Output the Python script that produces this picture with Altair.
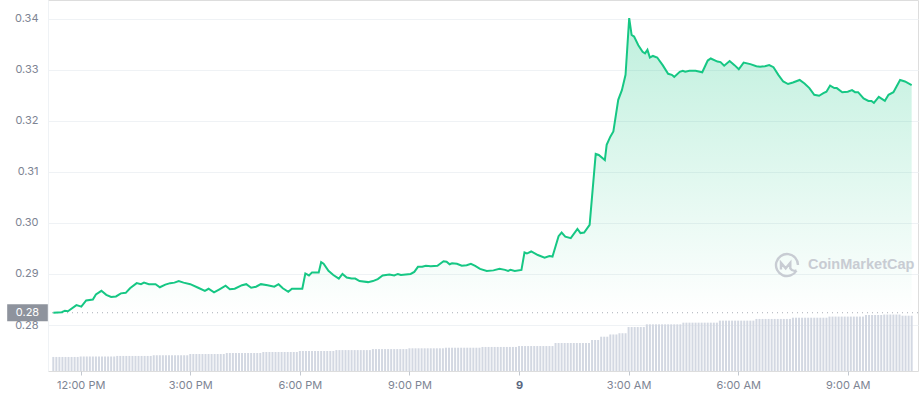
import altair as alt
import pandas as pd

# ---------------- data ----------------
BASE = pd.Timestamp("2022-11-08 12:00")   # 12:00 PM on the 8th

# minutes relative to 12:00 PM of day 8
TIMES_MIN = [
    -45, -31, -26, -21, -7, 1, 9, 20, 25, 34,
    42, 50, 58, 66, 74, 81, 92, 99, 104, 112,
    123, 130, 139, 147, 154, 161, 169, 180, 193, 204,
    210, 219, 228, 238, 245, 253, 265, 272, 280, 288,
    296, 307, 318, 325, 332, 341, 347, 356, 364, 369,
    375, 380, 391, 395, 399, 407, 415, 424, 430, 437,
    445, 451, 458, 472, 480, 488, 496, 507, 515, 521,
    526, 542, 548, 554, 561, 567, 575, 586, 596, 601,
    606, 610, 618, 626, 634, 641, 648, 656, 667, 678,
    688, 697, 702, 706, 713, 724, 729, 733, 740, 751,
    762, 770, 775, 785, 790, 796, 805, 816, 821, 827,
    836, 846, 851, 861, 864, 870, 875, 883, 889, 895,
    901, 905, 909, 916, 923, 927, 931, 935, 940, 947,
    956, 965, 971, 975, 984, 989, 993, 1000, 1010, 1021,
    1030, 1035, 1046, 1051, 1057, 1066, 1074, 1081, 1089, 1100,
    1110, 1116, 1124, 1131, 1138, 1146, 1154, 1162, 1170, 1181,
    1189, 1197, 1205, 1213, 1220, 1225, 1231, 1238, 1242, 1251,
    1260, 1267, 1272, 1277, 1286, 1294, 1299, 1303, 1311, 1321,
    1327, 1335, 1346, 1354, 1365,
]

PRICES = [
    0.2824, 0.2825, 0.2828, 0.2827, 0.2839, 0.2836, 0.2848, 0.2850, 0.2860, 0.2867,
    0.2859, 0.2855, 0.2856, 0.2862, 0.2863, 0.2872, 0.2882, 0.2880, 0.2883, 0.2880,
    0.2880, 0.2874, 0.2879, 0.2882, 0.2883, 0.2886, 0.2883, 0.2880, 0.2873, 0.2867,
    0.2871, 0.2864, 0.2870, 0.2877, 0.2870, 0.2871, 0.2878, 0.2880, 0.2873, 0.2875,
    0.2880, 0.2878, 0.2875, 0.2880, 0.2872, 0.2865, 0.2871, 0.2871, 0.2871, 0.2901,
    0.2897, 0.2903, 0.2903, 0.2923, 0.2920, 0.2906, 0.2898, 0.2891, 0.2900, 0.2893,
    0.2891, 0.2891, 0.2886, 0.2884, 0.2886, 0.2890, 0.2897, 0.2899, 0.2897, 0.2900,
    0.2898, 0.2900, 0.2904, 0.2914, 0.2914, 0.2916, 0.2915, 0.2916, 0.2925, 0.2924,
    0.2919, 0.2921, 0.2920, 0.2916, 0.2917, 0.2920, 0.2916, 0.2910, 0.2906, 0.2907,
    0.2910, 0.2908, 0.2906, 0.2908, 0.2906, 0.2908, 0.2942, 0.2940, 0.2944, 0.2937,
    0.2932, 0.2935, 0.2934, 0.2974, 0.2981, 0.2973, 0.2970, 0.2988, 0.2980, 0.2981,
    0.2996, 0.3135, 0.3133, 0.3123, 0.3153, 0.3169, 0.3179, 0.3241, 0.3260, 0.3290,
    0.3401, 0.3368, 0.3365, 0.3348, 0.3335, 0.3332, 0.3339, 0.3324, 0.3327, 0.3324,
    0.3309, 0.3292, 0.3290, 0.3286, 0.3296, 0.3298, 0.3296, 0.3298, 0.3298, 0.3295,
    0.3318, 0.3322, 0.3316, 0.3315, 0.3308, 0.3317, 0.3309, 0.3301, 0.3314, 0.3311,
    0.3307, 0.3306, 0.3307, 0.3309, 0.3305, 0.3290, 0.3277, 0.3272, 0.3275, 0.3280,
    0.3273, 0.3264, 0.3251, 0.3249, 0.3254, 0.3257, 0.3269, 0.3264, 0.3264, 0.3256,
    0.3257, 0.3260, 0.3256, 0.3256, 0.3244, 0.3239, 0.3239, 0.3235, 0.3247, 0.3239,
    0.3251, 0.3256, 0.3280, 0.3277, 0.3270,
]

OPEN_PRICE = PRICES[0]
OPEN_LABEL = "0.28"

# volume: value held from each block start (minutes from 12:00 PM), in millions
VOL_BLOCK_START = [-45, 0, 60, 120, 180, 240, 300, 360, 420, 480, 540, 600, 660, 720,
                   780, 840, 855, 870, 885, 900, 930, 990, 1050, 1110, 1170, 1230,
                   1290, 1320, 1350]
VOL_BLOCK_VALUE = [12.5, 12.9, 13.4, 14.0, 15.1, 16.0, 16.9, 17.8, 18.6, 19.5, 20.2,
                   20.7, 21.4, 22.2, 24.9, 27.6, 30.5, 32.5, 33.6, 39.1, 41.5, 43.0,
                   44.8, 46.3, 47.4, 48.4, 49.8, 50.2, 49.2]
VOL_BAR_STEP_MIN = 5

Y_TICKS = [0.28, 0.29, 0.30, 0.31, 0.32, 0.33, 0.34]
PRICE_DOMAIN = [0.27099, 0.34366]
VOL_DOMAIN = [0, 330]

# ---------------- tables ----------------
price_df = pd.DataFrame({
    "time": BASE + pd.to_timedelta(TIMES_MIN, unit="m"),
    "price": PRICES,
})

bar_minutes = list(range(TIMES_MIN[0], TIMES_MIN[-1] + 1, VOL_BAR_STEP_MIN))
bar_vals = []
for m in bar_minutes:
    v = VOL_BLOCK_VALUE[0]
    for s, val in zip(VOL_BLOCK_START, VOL_BLOCK_VALUE):
        if m >= s:
            v = val
    bar_vals.append(v)
vol_df = pd.DataFrame({
    "time": BASE + pd.to_timedelta(bar_minutes, unit="m"),
    "volume": bar_vals,
})
one = pd.DataFrame({"k": [0]})

# ---------------- scales / axes ----------------
x_domain = [
    alt.DateTime(year=2022, month=11, date=8, hours=11, minutes=14, seconds=30),
    alt.DateTime(year=2022, month=11, date=9, hours=10, minutes=47, seconds=12),
]
x_ticks = [
    alt.DateTime(year=2022, month=11, date=8, hours=12),
    alt.DateTime(year=2022, month=11, date=8, hours=15),
    alt.DateTime(year=2022, month=11, date=8, hours=18),
    alt.DateTime(year=2022, month=11, date=8, hours=21),
    alt.DateTime(year=2022, month=11, date=9, hours=0),
    alt.DateTime(year=2022, month=11, date=9, hours=3),
    alt.DateTime(year=2022, month=11, date=9, hours=6),
    alt.DateTime(year=2022, month=11, date=9, hours=9),
]
x_axis = alt.Axis(
    values=x_ticks,
    labelExpr="hours(datum.value) == 0 ? '9' : timeFormat(datum.value, '%-I:%M %p')",
    grid=False, domain=False, ticks=True, tickSize=4, tickColor="#c3c8d0",
    labelPadding=4, labelFontSize=11, title=None,
    labelColor={"condition": {"test": "hours(datum.value) == 0", "value": "#58667e"},
                "value": "#7d8493"},
    labelFontWeight={"condition": {"test": "hours(datum.value) == 0", "value": "bold"},
                     "value": "normal"},
)
x_enc = alt.X("time:T", scale=alt.Scale(domain=x_domain), axis=x_axis)

price_scale = alt.Scale(domain=PRICE_DOMAIN, zero=False, nice=False)
y_axis = alt.Axis(
    values=Y_TICKS, format=".2f", orient="left", title=None,
    grid=True, gridColor="#eff2f5", gridWidth=1,
    domain=True, domainColor="#eff2f5", ticks=False,
    labelPadding=10, labelFontSize=11, labelColor="#7d8493",
)

# ---------------- marks ----------------
bars = alt.Chart(vol_df).mark_bar(width=2, color="#d3d8e2").encode(
    x=x_enc,
    y=alt.Y("volume:Q", scale=alt.Scale(domain=VOL_DOMAIN, nice=False), axis=None),
)

gradient = alt.Gradient(
    gradient="linear",
    stops=[alt.GradientStop(color="rgba(22,199,132,0.28)", offset=0),
           alt.GradientStop(color="rgba(22,199,132,0)", offset=1)],
    x1=0, x2=0, y1=0, y2=1,
)

area = alt.Chart(price_df).mark_area(fill=gradient, line=False).encode(
    x=x_enc,
    y=alt.Y("price:Q", scale=price_scale, axis=y_axis),
    y2=alt.Y2Datum(OPEN_PRICE),
)

line = alt.Chart(price_df).mark_line(color="#16c784", strokeWidth=2).encode(
    x=x_enc,
    y=alt.Y("price:Q", scale=price_scale),
)

open_rule = alt.Chart(one).mark_rule(color="#a9aeb8", strokeDash=[1, 4], strokeWidth=1).encode(
    y=alt.YDatum(OPEN_PRICE, scale=price_scale),
)

RECT_PATH = "M -1,-0.42 L 1,-0.42 L 1,0.42 L -1,0.42 Z"
open_box = alt.Chart(one).mark_point(
    shape=RECT_PATH, filled=True, size=1650, color="#8e939d", opacity=1
).encode(
    x=alt.value(-20.5),
    y=alt.YDatum(OPEN_PRICE, scale=price_scale),
)
open_text = alt.Chart(one).mark_text(
    text=OPEN_LABEL, color="#ffffff", fontSize=11, align="center", baseline="middle"
).encode(
    x=alt.value(-20.5),
    y=alt.YDatum(OPEN_PRICE, scale=price_scale),
)

LOGO_PATH = ("M 0.87,0.5 A 1,1 0 1 1 1,0 "
             "M -0.55,0.4 L -0.55,-0.2 L -0.12,0.3 L 0.3,-0.2 L 0.3,0.3 Q 0.5,0.62 0.87,0.5")
logo = alt.Chart(one).mark_point(
    shape=LOGO_PATH, filled=False, size=484, color="#c8ccd3", strokeWidth=2.4, opacity=1
).encode(x=alt.value(739), y=alt.value(265))
logo_text = alt.Chart(one).mark_text(
    text="CoinMarketCap", color="#c8ccd3", fontSize=14.5, fontWeight="bold",
    font="Liberation Sans", align="left", baseline="middle",
).encode(x=alt.value(760), y=alt.value(265))

price_group = alt.layer(area, logo, logo_text, open_rule, line, open_box, open_text)

chart = alt.layer(bars, price_group).resolve_scale(y="independent").properties(
    width=870, height=371,
    autosize=alt.AutoSizeParams(type="none"),
    padding={"left": 48, "top": 0, "right": 2, "bottom": 25},
).configure_view(stroke=None).configure(
    font="Inter", background="#ffffff"
).configure_axis(labelFont="Inter")

chart.save("out.html", embed_options={"renderer": "svg", "actions": False})
